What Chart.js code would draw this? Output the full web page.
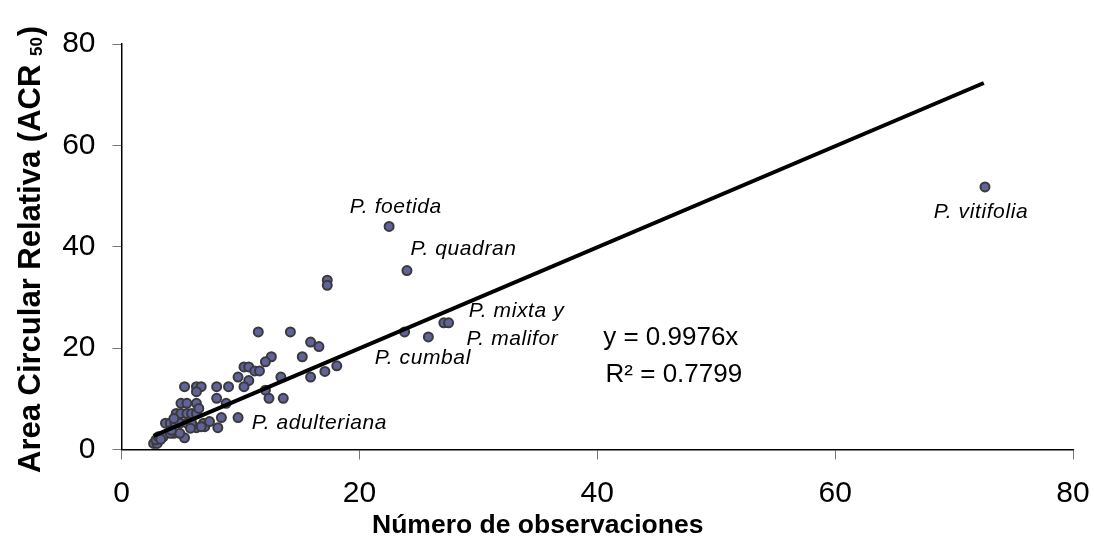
<!DOCTYPE html>
<html>
<head>
<meta charset="utf-8">
<script src="https://cdn.jsdelivr.net/npm/chart.js@4.4.1/dist/chart.umd.min.js"></script>
<style>
html,body{margin:0;padding:0;background:#fff;}
#wrap{width:1094px;height:538px;position:relative;}
</style>
</head>
<body>
<div id="wrap"><canvas id="myChart"></canvas></div>
<script>
//観測数 (x) と ACR50 (y) の点
var obs_x = [11.5,14.2,15.9,16.6,15.2,12.6,12.1,10.3,10.7,11.2,11.6,9.8,10.7,13.4,15.9,10.3,5.3,6.3,6.7,6.3,
             8.0,9.0,8.0,8.8,12.1,12.4,13.6,5.0,5.5,6.3,4.6,5.0,5.5,5.9,6.3,3.7,4.1,4.5,4.9,6.5,
             8.4,9.8,6.9,6.3,8.1,5.3,3.5,4.4,2.7,3.0,2.9,4.1,4.9,5.5,5.9,22.5,24.0,17.3,17.3,17.1,
             18.1,23.8,25.8,27.1,27.5,72.6,4.4,3.1,5.8,7.0,7.4,6.7,4.2,3.3];
var acr_y = [23.2,23.2,21.2,20.3,18.3,18.3,17.3,16.3,16.3,15.5,15.5,14.3,13.6,14.3,14.3,12.4,12.4,12.4,12.4,11.4,
             12.4,12.4,10.1,9.1,11.7,10.1,10.1,9.1,9.1,9.1,7.1,7.1,7.1,7.1,7.1,5.2,5.2,5.2,5.2,8.1,
             6.3,6.3,5.2,4.3,4.3,2.3,2.5,3.2,1.2,1.2,1.9,3.2,3.2,5.2,5.2,44.0,35.3,33.4,32.4,15.4,
             16.5,23.2,22.2,25.0,25.0,51.8,6.1,2.5,4.2,4.5,5.5,4.5,3.8,2.0];
//回帰直線 y = 0.9976x の両端
var trend_x = [2.7, 72.5];
var trend_y = [2.7, 72.3];
//目盛り
var x_ticks = [0, 20, 40, 60, 80];
var y_ticks = [0, 20, 40, 60, 80];
//種名ラベルと式
var species_names = ['P. foetida', 'P. quadran', 'P. vitifolia', 'P. mixta y', 'P. malifor', 'P. cumbal', 'P. adulteriana'];
var eq_lines = ['y = 0.9976x', 'R\u00B2 = 0.7799'];
var x_title = 'Número de observaciones';
var y_title = ['Area Circular Relativa (ACR ', '50', ')'];

var font_name = '"Liberation Sans", Arial, Helvetica, sans-serif';

//ラベルを置く位置（データ座標）
var name_anchor = [[19.2,46.7],[24.3,38.3],[68.3,45.6],[29.2,26.2],[29.0,20.6],[21.3,16.8],[10.95,4.0]];
var eq_anchor = [[40.5,20.6],[40.7,13.4]];

var points = obs_x.map(function(v, i){ return {x: v, y: acr_y[i]}; });
var trend = trend_x.map(function(v, i){ return {x: v, y: trend_y[i]}; });

//文字を描くプラグイン
var text_plugin = {
    id: 'text_plugin',
    afterDraw: function(chart){
        var ctx = chart.ctx;
        var xs = chart.scales.x, ys = chart.scales.y;
        ctx.save();
        ctx.fillStyle = '#000';
        ctx.textAlign = 'left';
        ctx.textBaseline = 'alphabetic';
        //種名
        ctx.font = 'italic 21px ' + font_name;
        ctx.letterSpacing = '0.6px';
        for(var i = 0; i < species_names.length; i++){
            ctx.fillText(species_names[i], xs.getPixelForValue(name_anchor[i][0]), ys.getPixelForValue(name_anchor[i][1]));
        }
        ctx.letterSpacing = '0px';
        //式
        ctx.font = '26px ' + font_name;
        for(var j = 0; j < eq_lines.length; j++){
            ctx.fillText(eq_lines[j], xs.getPixelForValue(eq_anchor[j][0]), ys.getPixelForValue(eq_anchor[j][1]));
        }
        //x軸タイトル
        ctx.font = 'bold 26.5px ' + font_name;
        ctx.fillText(x_title, 372, 533);
        //y軸タイトル（回転、添字つき）
        ctx.translate(40, 473);
        ctx.rotate(-Math.PI / 2);
        ctx.font = 'bold 31px ' + font_name;
        var w0 = ctx.measureText(y_title[0]).width;
        ctx.fillText(y_title[0], 0, 0);
        ctx.font = 'bold 17px ' + font_name;
        var w1 = ctx.measureText(y_title[1]).width;
        ctx.fillText(y_title[1], w0, 2);
        ctx.font = 'bold 31px ' + font_name;
        ctx.fillText(y_title[2], w0 + w1 + 1, 0);
        ctx.restore();
    }
};

var ctx = document.getElementById('myChart');
var my_chart = new Chart(ctx, {
    type: 'scatter',
    data: {
        datasets: [{
            label: 'tendencia',
            data: trend,
            showLine: true,
            borderColor: '#000',
            borderWidth: 4,
            pointRadius: 0,
            fill: false,
            order: 0
        }, {
            label: 'especies',
            data: points,
            pointRadius: 4.5,
            pointBackgroundColor: '#62629a',
            pointBorderColor: '#3a3a3a',
            pointBorderWidth: 2,
            order: 1
        }]
    },
    options: {
        responsive: true,
        maintainAspectRatio: false,
        animation: false,
        layout: {padding: {top: 44, right: 21, left: 0, bottom: 0}},
        plugins: {legend: {display: false}, tooltip: {enabled: false}},
        scales: {
            x: {
                type: 'linear',
                min: 0, max: 80,
                afterBuildTicks: function(s){ s.ticks = x_ticks.map(function(v){ return {value: v}; }); },
                afterFit: function(s){ s.height = 88.5; s.paddingLeft = 0; s.paddingRight = 0; },
                ticks: {color: '#000', font: {family: font_name, size: 30}, padding: 16.5, maxRotation: 0},
                grid: {display: true, drawOnChartArea: false, drawTicks: true, tickLength: 10, color: '#777'},
                border: {display: true, color: '#000', width: 1.5}
            },
            y: {
                type: 'linear',
                min: 0, max: 80,
                afterBuildTicks: function(s){ s.ticks = y_ticks.map(function(v){ return {value: v}; }); },
                afterFit: function(s){ s.width = 121.5; s.paddingTop = 0; s.paddingBottom = 0; },
                ticks: {color: '#000', font: {family: font_name, size: 30}, padding: 17},
                grid: {display: true, drawOnChartArea: false, drawTicks: true, tickLength: 9, color: '#777'},
                border: {display: true, color: '#000', width: 1.5}
            }
        }
    },
    plugins: [text_plugin]
});
</script>
</body>
</html>
